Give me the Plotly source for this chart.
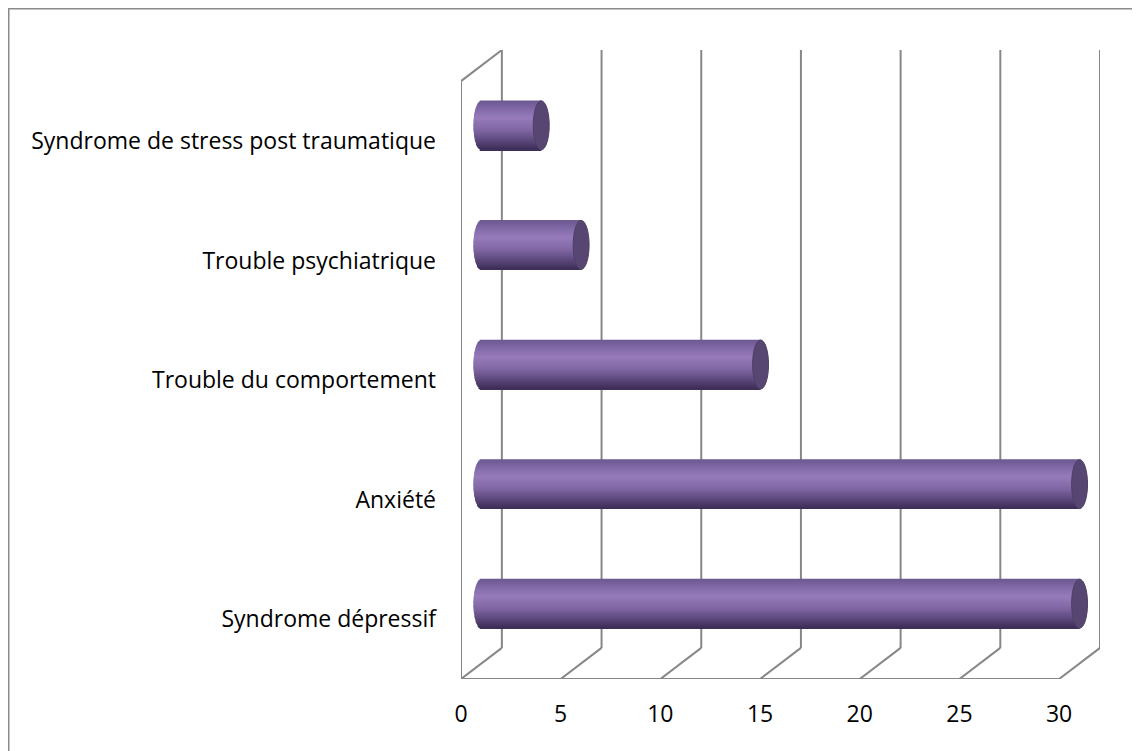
import plotly.graph_objects as go
import numpy as np

# ---- data ----
categories = ["Syndrome dépressif", "Anxiété", "Trouble du comportement",
              "Trouble psychiatrique", "Syndrome de stress post traumatique"]
values = [30, 30, 14, 5, 3]
x_ticks = [0, 5, 10, 15, 20, 25, 30]

# ---- 3D look parameters (axis units) ----
DX = 2.05      # depth offset along x
DY = 0.26      # depth offset along y (category units)
BAR_H = 0.41   # cylinder thickness
RX = 0.40      # ellipse half-width of cylinder ends
GRID = "#878787"
CAP = "#574672"

# page has an 8px body margin -> figure is drawn from (8, 8)
W, H = 1132, 743
ML, MR, MT, MB = 453, 40, 42, 72
XMAX = x_ticks[-1] + DX
YMIN, YMAX = -0.5, len(categories) - 0.5 + DY

pos = list(range(len(categories)))

fig = go.Figure()

# gradient stops (s from top=0 to bottom=1)
stops = [(0.0, (108, 88, 144)), (0.12, (122, 100, 160)), (0.35, (151, 123, 187)),
         (0.6, (128, 103, 163)), (0.85, (86, 67, 117)), (1.0, (60, 45, 85))]

def grad(s):
    for (s0, c0), (s1, c1) in zip(stops[:-1], stops[1:]):
        if s0 <= s <= s1:
            f = (s - s0) / (s1 - s0)
            return "rgb(%d,%d,%d)" % tuple(round(a + (b - a) * f) for a, b in zip(c0, c1))
    return "rgb(%d,%d,%d)" % stops[-1][1]

N = 40
step = BAR_H / N
for i in range(N):
    s = (i + 0.5) / N
    t = 2 * s - 1
    bulge = RX * np.sqrt(max(0.0, 1 - t * t))
    yc = [p + DY / 2 + (0.5 - s) * BAR_H for p in pos]
    fig.add_trace(go.Bar(
        orientation="h",
        y=yc,
        x=[v + bulge for v in values],
        base=[DX / 2 - bulge] * len(values),
        width=step * 1.5,
        marker=dict(color=grad(s), line=dict(width=0)),
        hoverinfo="skip",
        showlegend=False,
    ))

shapes = []
line = dict(color=GRID, width=2)
# back wall gridlines
for t in x_ticks:
    shapes.append(dict(type="line", xref="x", yref="y", layer="below",
                       x0=t + DX, x1=t + DX, y0=-0.5 + DY, y1=len(categories) - 0.5 + DY, line=line))
    # floor diagonals
    shapes.append(dict(type="line", xref="x", yref="y", layer="below",
                       x0=t, x1=t + DX, y0=-0.5, y1=-0.5 + DY, line=line))
# floor front edge
shapes.append(dict(type="line", xref="x", yref="y", layer="below",
                   x0=x_ticks[0], x1=x_ticks[-1], y0=-0.5, y1=-0.5, line=line))
# left wall front edge and top diagonal
shapes.append(dict(type="line", xref="x", yref="y", layer="below",
                   x0=0, x1=0, y0=-0.5, y1=len(categories) - 0.5, line=line))
shapes.append(dict(type="line", xref="x", yref="y", layer="below",
                   x0=0, x1=DX, y0=len(categories) - 0.5, y1=len(categories) - 0.5 + DY, line=line))

# cylinder end caps
for p, v in zip(pos, values):
    cx = DX / 2 + v
    cy = p + DY / 2
    shapes.append(dict(type="circle", xref="x", yref="y", layer="above",
                       x0=cx - RX, x1=cx + RX, y0=cy - BAR_H / 2, y1=cy + BAR_H / 2,
                       fillcolor=CAP, line=dict(color="#4e3f66", width=1)))

# outer chart border (top & left visible)
pw = W - ML - MR
ph = H - MT - MB
bx = (0 - ML) / pw
by = 1 + (MT - 0) / ph
shapes.append(dict(type="line", xref="paper", yref="paper", x0=bx, x1=2, y0=by, y1=by,
                   line=dict(color="#8a8a8a", width=3)))
shapes.append(dict(type="line", xref="paper", yref="paper", x0=bx, x1=bx, y0=by, y1=-2,
                   line=dict(color="#8a8a8a", width=3)))

font = dict(family="Open Sans, Lato, sans-serif", size=23, color="#000000")

fig.update_layout(
    width=W, height=H,
    margin=dict(l=ML, r=MR, t=MT, b=MB, autoexpand=False),
    paper_bgcolor="white", plot_bgcolor="white",
    barmode="overlay",
    shapes=shapes,
    showlegend=False,
    font=font,
    xaxis=dict(range=[0, XMAX], tickvals=x_ticks, ticktext=[str(t) for t in x_ticks],
               showgrid=False, zeroline=False, showline=False, ticks="",
               ticklabelstandoff=19, tickfont=font, automargin=False, fixedrange=True),
    yaxis=dict(range=[YMIN, YMAX], tickvals=pos, ticktext=categories,
               showgrid=False, zeroline=False, showline=False, ticks="",
               ticklabelstandoff=24, tickfont=font, automargin=False, fixedrange=True),
)

fig.write_html("out.html")
